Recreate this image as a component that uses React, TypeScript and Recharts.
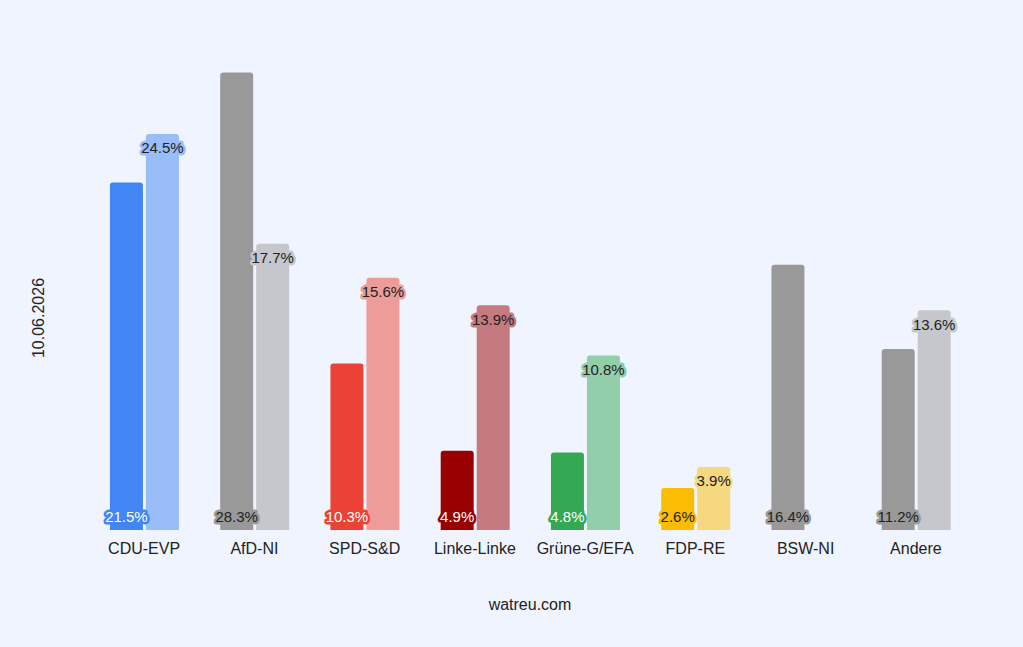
import { BarChart, Bar, XAxis, YAxis, Cell, LabelList } from "recharts";

const categories = ['CDU-EVP', 'AfD-NI', 'SPD-S&D', 'Linke-Linke', 'Grüne-G/EFA', 'FDP-RE', 'BSW-NI', 'Andere'];
const current = [21.5, 28.3, 10.3, 4.9, 4.8, 2.6, 16.4, 11.2];
const previous: (number | null)[] = [24.5, 17.7, 15.6, 13.9, 10.8, 3.9, null, 13.6];
const colors = ['#4285F4', '#999999', '#EA4335', '#990000', '#34A853', '#FBBC04', '#999999', '#999999'];
const lightLabel = [true, false, true, true, true, false, false, false];

const data = categories.map((name, i) => ({
  name,
  current: current[i],
  previous: previous[i],
}));

const BG = '#F0F4FE';
const FONT = '"Liberation Sans", Arial, sans-serif';

// half-way mix of a colour with the page background (used for label halos on the lighter bars)
const mix = (hex: string) => {
  const a = parseInt(hex.slice(1), 16);
  const b = parseInt(BG.slice(1), 16);
  const ch = (s: number) => Math.round((((a >> s) & 255) + ((b >> s) & 255)) / 2);
  return `rgb(${ch(16)},${ch(8)},${ch(0)})`;
};

const fmt = (v: number) => `${v.toFixed(1)}%`;

const BottomLabel = (props: any) => {
  const { x, y, width, height, value, index } = props;
  if (value == null) return null;
  return (
    <text
      x={x + width / 2}
      y={y + height - 14}
      textAnchor="middle"
      dominantBaseline="central"
      fontSize={15}
      fontFamily={FONT}
      fill={lightLabel[index] ? '#ffffff' : '#222222'}
      stroke={colors[index]}
      strokeWidth={5}
      strokeLinejoin="round"
      paintOrder="stroke"
    >
      {fmt(value)}
    </text>
  );
};

const TopLabel = (props: any) => {
  const { x, y, width, value, index } = props;
  if (value == null) return null;
  return (
    <text
      x={x + width / 2}
      y={y + 14}
      textAnchor="middle"
      dominantBaseline="central"
      fontSize={15}
      fontFamily={FONT}
      fill="#222222"
      stroke={mix(colors[index])}
      strokeWidth={5}
      strokeLinejoin="round"
      paintOrder="stroke"
    >
      {fmt(value)}
    </text>
  );
};

const YTitle = (props: any) => {
  const { viewBox } = props;
  const cx = viewBox.x + 38;
  const cy = 318;
  return (
    <text
      x={cx}
      y={cy}
      transform={`rotate(-90, ${cx}, ${cy})`}
      textAnchor="middle"
      dominantBaseline="central"
      fontSize={16}
      fontFamily={FONT}
      fill="#222222"
    >
      10.06.2026
    </text>
  );
};

const XTitle = (props: any) => {
  const { viewBox } = props;
  return (
    <text
      x={viewBox.x + viewBox.width / 2}
      y={604}
      textAnchor="middle"
      dominantBaseline="central"
      fontSize={16}
      fontFamily={FONT}
      fill="#222222"
    >
      watreu.com
    </text>
  );
};

export default function App() {
  return (
    <div style={{ position: 'absolute', left: 0, top: 0, width: 1023, height: 647, background: BG }}>
      <BarChart
        width={1023}
        height={647}
        data={data}
        margin={{ top: 45, right: 52, left: 0, bottom: 37 }}
        barCategoryGap="19%"
        barGap={3}
      >
        <XAxis
          dataKey="name"
          axisLine={false}
          tickLine={false}
          height={80}
          interval={0}
          tick={{ fontSize: 16, fontFamily: FONT, fill: '#222222' }}
          tickMargin={7}
          label={<XTitle />}
        />
        <YAxis
          domain={[0, 30]}
          width={89}
          tick={false}
          axisLine={false}
          tickLine={false}
          label={<YTitle />}
        />
        <Bar dataKey="current" radius={[3, 3, 0, 0]} isAnimationActive={false}>
          {data.map((d, i) => (
            <Cell key={d.name} fill={colors[i]} />
          ))}
          <LabelList dataKey="current" content={<BottomLabel />} />
        </Bar>
        <Bar dataKey="previous" radius={[3, 3, 0, 0]} isAnimationActive={false}>
          {data.map((d, i) => (
            <Cell key={d.name} fill={colors[i]} fillOpacity={0.5} />
          ))}
          <LabelList dataKey="previous" content={<TopLabel />} />
        </Bar>
      </BarChart>
    </div>
  );
}
